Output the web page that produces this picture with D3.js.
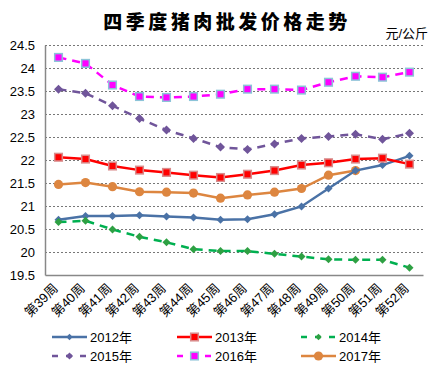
<!DOCTYPE html>
<html>
<head>
<meta charset="utf-8">
<script src="https://cdn.jsdelivr.net/npm/d3@7"></script>
<style>
  body { margin: 0; background: #fff; }
  svg text { font-family: Arial, "Liberation Sans", "Noto Sans CJK SC", sans-serif; }
</style>
</head>
<body>
<div id="chart"></div>
<script>
var weeks = ["第39周","第40周","第41周","第42周","第43周","第44周","第45周","第46周","第47周","第48周","第49周","第50周","第51周","第52周"];
var yTicks = [19.5, 20, 20.5, 21, 21.5, 22, 22.5, 23, 23.5, 24, 24.5];

var v2012 = [20.70, 20.78, 20.78, 20.80, 20.77, 20.75, 20.70, 20.71, 20.82, 20.99, 21.38, 21.77, 21.89, 22.09];
var v2013 = [22.06, 22.02, 21.87, 21.78, 21.73, 21.67, 21.62, 21.69, 21.77, 21.89, 21.94, 22.02, 22.04, 21.91];
var v2014 = [20.65, 20.68, 20.49, 20.33, 20.21, 20.06, 20.02, 20.02, 19.96, 19.90, 19.84, 19.83, 19.83, 19.66];
var v2015 = [23.54, 23.45, 23.18, 22.90, 22.65, 22.47, 22.28, 22.23, 22.35, 22.47, 22.51, 22.56, 22.45, 22.58];
var v2016 = [24.23, 24.10, 23.63, 23.38, 23.36, 23.38, 23.43, 23.54, 23.54, 23.52, 23.69, 23.82, 23.80, 23.91];
var v2017 = [21.47, 21.51, 21.42, 21.31, 21.30, 21.28, 21.17, 21.24, 21.30, 21.38, 21.67, 21.77];

var seriesNames = ["2012年","2013年","2014年","2015年","2016年","2017年"];

var series = [
  {name: seriesNames[0], values: v2012, color: "#4a72a6", dash: null, marker: "diamond", size: 4, fill: "#4a72a6", stroke: "#4a72a6"},
  {name: seriesNames[1], values: v2013, color: "#ff0000", dash: null, marker: "square", size: 3.8, fill: "#ff0000", stroke: "#d98c8c"},
  {name: seriesNames[2], values: v2014, color: "#00b050", dash: "8,6", marker: "diamond", size: 4, fill: "#2ea043", stroke: "#2ea043"},
  {name: seriesNames[3], values: v2015, color: "#70559a", dash: "8,6", marker: "diamond", size: 4.5, fill: "#70559a", stroke: "#70559a"},
  {name: seriesNames[4], values: v2016, color: "#ff00ff", dash: "8,6", marker: "square", size: 3.8, fill: "#ff00ff", stroke: "#8cc4d8"},
  {name: seriesNames[5], values: v2017, color: "#dd8640", dash: null, marker: "circle", size: 4.6, fill: "#dd8640", stroke: "#dd8640"}
];

var margin = {top: 45, right: 16, bottom: 94, left: 45},
    width = 439 - margin.left - margin.right,
    height = 369 - margin.top - margin.bottom;

var svg = d3.select("#chart").append("svg")
    .attr("width", 439)
    .attr("height", 369);

// titre
svg.append("text")
    .attr("x", 227)
    .attr("y", 29)
    .attr("text-anchor", "middle")
    .style("font-family", "'Noto Sans CJK SC', sans-serif")
    .style("font-weight", "900")
    .style("font-size", "19px")
    .style("letter-spacing", "3.5px")
    .text("四季度猪肉批发价格走势");

svg.append("text")
    .attr("x", 428)
    .attr("y", 38)
    .attr("text-anchor", "end")
    .style("font-size", "13px")
    .text("元/公斤");

var g = svg.append("g")
    .attr("transform", "translate(" + margin.left + "," + margin.top + ")");

var xScale = d3.scaleBand()
    .domain(weeks)
    .range([0, width]);

var yScale = d3.scaleLinear()
    .domain([19.5, 24.5])
    .range([height, 0]);

// grille
g.selectAll(".grid")
    .data(yTicks.slice(1))
  .enter().append("line")
    .attr("class", "grid")
    .attr("x1", 0)
    .attr("x2", width)
    .attr("y1", function(d) { return Math.round(yScale(d)) + 0.5; })
    .attr("y2", function(d) { return Math.round(yScale(d)) + 0.5; })
    .attr("stroke", "#777")
    .attr("stroke-width", 1)
    .attr("stroke-dasharray", "2,2");

// axes
var yAxis = g.append("g")
    .call(d3.axisLeft(yScale).tickValues(yTicks).tickSize(0).tickPadding(10).tickFormat(d3.format("")));
yAxis.select(".domain").attr("stroke", "#888").attr("stroke-width", 1.5);
yAxis.selectAll("text").style("font-size", "13px").attr("fill", "#000");

var xAxis = g.append("g")
    .attr("transform", "translate(0," + height + ")")
    .call(d3.axisBottom(xScale).tickSize(0));
xAxis.select(".domain").attr("stroke", "#888").attr("stroke-width", 1.5);
xAxis.selectAll("text")
    .style("font-size", "13px")
    .attr("fill", "#000")
    .style("text-anchor", "end")
    .attr("dx", "0")
    .attr("dy", "0")
    .attr("transform", "translate(-2,12) rotate(-45)");

var line = d3.line()
    .x(function(d, i) { return xScale(weeks[i]) + xScale.bandwidth() / 2; })
    .y(function(d) { return yScale(d); });

function drawMarker(sel, s, cx, cy, scale) {
  var r = s.size * (scale || 1);
  if (s.marker === "square") {
    sel.append("rect")
      .attr("x", cx - r).attr("y", cy - r)
      .attr("width", 2 * r).attr("height", 2 * r)
      .attr("fill", s.fill).attr("stroke", s.stroke).attr("stroke-width", 1.5);
  } else if (s.marker === "circle") {
    sel.append("circle")
      .attr("cx", cx).attr("cy", cy).attr("r", r)
      .attr("fill", s.fill);
  } else {
    sel.append("path")
      .attr("d", "M" + cx + "," + (cy - r) + "L" + (cx + r) + "," + cy + "L" + cx + "," + (cy + r) + "L" + (cx - r) + "," + cy + "Z")
      .attr("fill", s.fill);
  }
}

var order = [3, 4, 5, 0, 2, 1];
order.forEach(function(k) {
  var s = series[k];
  var sg = g.append("g");
  sg.append("path")
    .datum(s.values)
    .attr("fill", "none")
    .attr("stroke", s.color)
    .attr("stroke-width", 2.5)
    .attr("stroke-dasharray", s.dash)
    .attr("d", line);
  s.values.forEach(function(v, i) {
    drawMarker(sg, s, xScale(weeks[i]) + xScale.bandwidth() / 2, yScale(v));
  });
});

// légende
var legendX = [52, 177, 301];
var legendY = [337, 356];
series.forEach(function(s, i) {
  var lx = legendX[i % 3], ly = legendY[Math.floor(i / 3)];
  var lg = svg.append("g");
  lg.append("line")
    .attr("x1", lx).attr("x2", lx + 35)
    .attr("y1", ly).attr("y2", ly)
    .attr("stroke", s.color)
    .attr("stroke-width", 2.5)
    .attr("stroke-dasharray", s.dash ? "6,8" : null);
  drawMarker(lg, s, lx + 17.5, ly, s.marker === "diamond" ? 0.8 : 1);
  lg.append("text")
    .attr("x", lx + 38)
    .attr("y", ly + 5)
    .style("font-size", "13px")
    .text(s.name);
});
</script>
</body>
</html>
